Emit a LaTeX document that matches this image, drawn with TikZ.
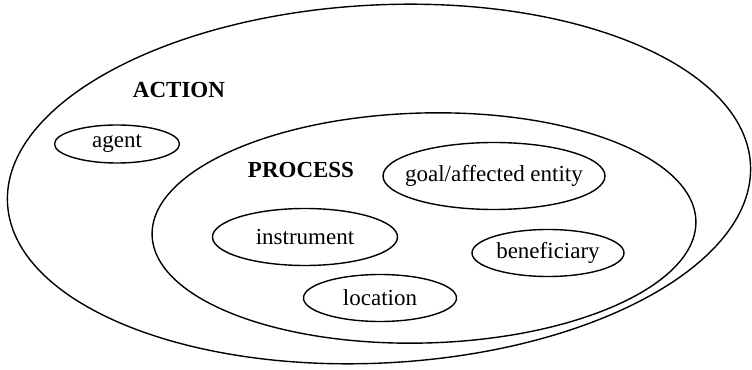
\documentclass[tikz,border=0pt]{standalone}
\usepackage{fontspec}
\setmainfont{Liberation Serif}
\usetikzlibrary{shapes.geometric}
\begin{document}
\begin{tikzpicture}[x=0.5pt, y=0.5pt, line width=0.7pt,
  every node/.style={font=\fontsize{11.5}{14}\selectfont},
  role/.style = {draw, ellipse, inner sep=0pt},
  head/.style = {font=\fontsize{11.5}{14}\selectfont\bfseries}]
\useasboundingbox (0,0) rectangle (752,370);
% the two nested frames
\node[role, minimum width=372pt, minimum height=179pt, rotate=3] (action) at (379,186) {};
\node[role, minimum width=272pt, minimum height=115pt, rotate=1.5] (process) at (424,142) {};
\node[head] (actiontxt) at (179,280) {ACTION};
\node[head] (processtxt) at (301,200) {PROCESS};
% participant roles
\node[role, minimum width=62.5pt, minimum height=19pt, label={center:agent}] (agent) at (117,226) {};
\node[role, minimum width=111pt, minimum height=33.5pt, label={center:goal/affected entity}] (goal) at (494,194) {};
\node[role, minimum width=92.5pt, minimum height=28.5pt, label={center:instrument}] (instrument) at (305,133) {};
\node[role, minimum width=76pt, minimum height=23.5pt, label={center:beneficiary}] (beneficiary) at (548,117) {};
\node[role, minimum width=76.5pt, minimum height=23.5pt, label={center:location}] (location) at (380,72) {};
\end{tikzpicture}
\end{document}
